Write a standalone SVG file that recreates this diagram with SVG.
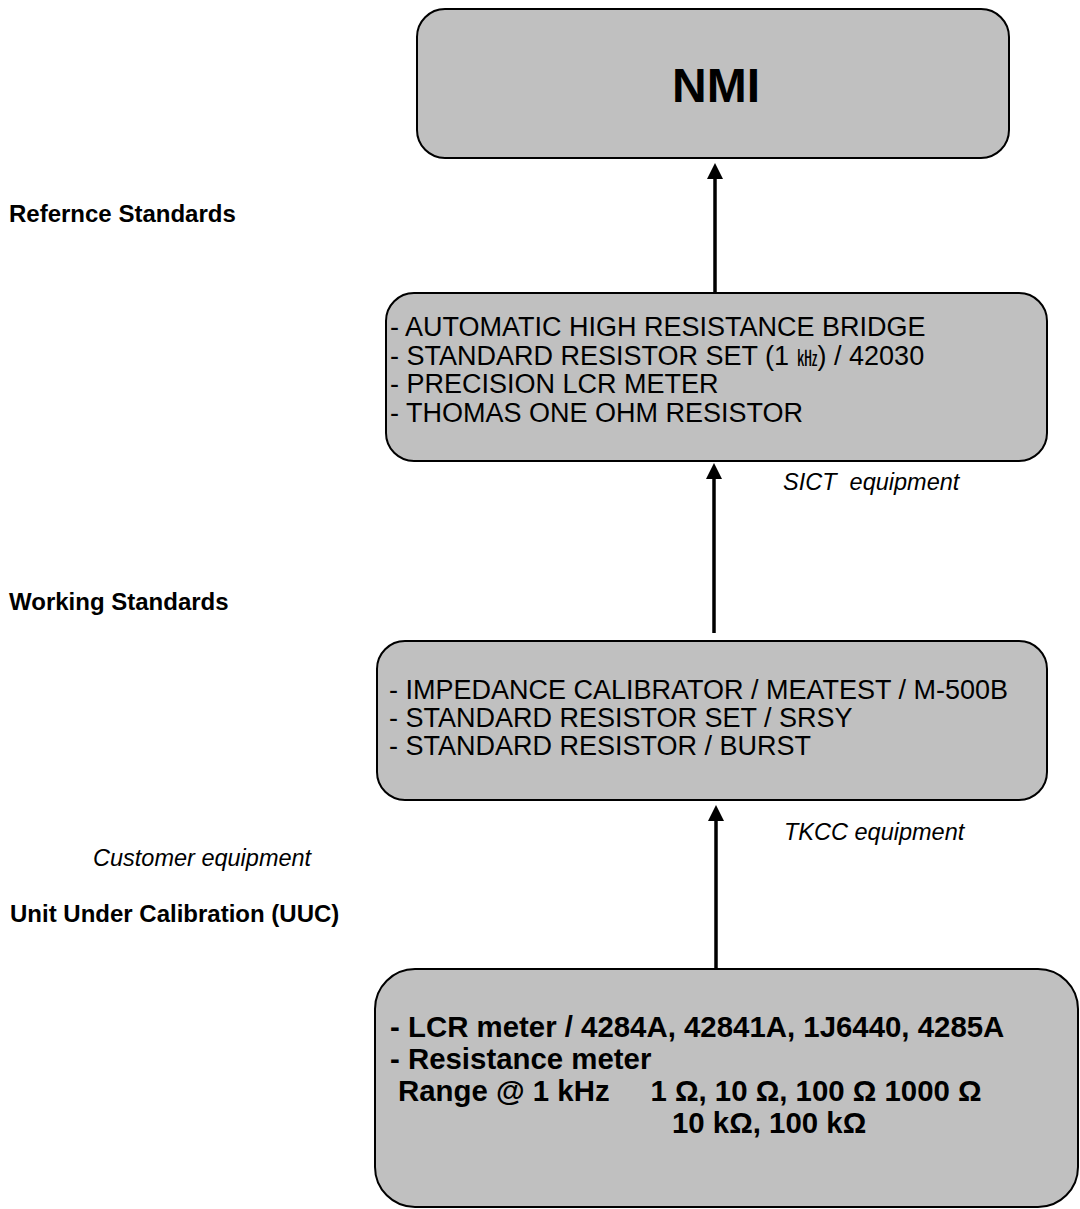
<svg xmlns="http://www.w3.org/2000/svg" width="1080" height="1209" viewBox="0 0 1080 1209">
<defs>
<style>
.box{fill:#c0c0c0;stroke:#000;stroke-width:2}
.t{font-family:"Liberation Sans",Arial,sans-serif;fill:#000;white-space:pre}
.bx{font-size:27px}
.lab{font-size:24px;font-weight:bold}
.it{font-size:23.5px;font-style:italic}
.uuc{font-size:29.4px;font-weight:bold}
.cjk{font-family:"Noto Sans CJK KR","Noto Sans CJK SC",sans-serif}
.conn{stroke:#000;stroke-width:3.5;fill:none}
</style>
<marker id="ah" viewBox="0 0 16 16" refX="6" refY="8" markerWidth="16" markerHeight="16" markerUnits="userSpaceOnUse" orient="auto">
<path d="M0,0 L16,8 L0,16 z" fill="#000"/>
</marker>
</defs>
<rect width="1080" height="1209" fill="#fff"/>
<g id="connectors">
<line class="conn" x1="715" y1="292" x2="715" y2="173" marker-end="url(#ah)"/>
<line class="conn" x1="714" y1="633" x2="714" y2="473" marker-end="url(#ah)"/>
<line class="conn" x1="716" y1="969" x2="716" y2="815" marker-end="url(#ah)"/>
</g>
<g id="nmi">
<rect class="box" x="417" y="9" width="592" height="149" rx="28"/>
<text class="t" x="672" y="102" font-weight="bold" font-size="48">NMI</text>
</g>
<g id="reference">
<rect class="box" x="386" y="293" width="661" height="168" rx="28"/>
<text class="t bx" x="390" y="336">- AUTOMATIC HIGH RESISTANCE BRIDGE</text>
<text class="t bx" x="390" y="365">- STANDARD RESISTOR SET (1 <tspan class="cjk" font-size="21">㎑</tspan>) / 42030</text>
<text class="t bx" x="390" y="393">- PRECISION LCR METER</text>
<text class="t bx" x="390" y="422">- THOMAS ONE OHM RESISTOR</text>
</g>
<g id="working">
<rect class="box" x="377" y="641" width="670" height="159" rx="28"/>
<text class="t bx" x="389" y="699">- IMPEDANCE CALIBRATOR / MEATEST / M-500B</text>
<text class="t bx" x="389" y="727">- STANDARD RESISTOR SET / SRSY</text>
<text class="t bx" x="389" y="755">- STANDARD RESISTOR / BURST</text>
</g>
<g id="uuc">
<rect class="box" x="375" y="969" width="703" height="238" rx="40"/>
<text class="t uuc" x="390" y="1037">- LCR meter / 4284A, 42841A, 1J6440, 4285A</text>
<text class="t uuc" x="390" y="1069">- Resistance meter</text>
<text class="t uuc" x="398" y="1101">Range @ 1 kHz     1 Ω, 10 Ω, 100 Ω 1000 Ω</text>
<text class="t uuc" x="672" y="1133">10 kΩ, 100 kΩ</text>
</g>
<g id="labels">
<text class="t lab" x="9" y="222">Refernce Standards</text>
<text class="t lab" x="9" y="610">Working Standards</text>
<text class="t lab" x="10" y="922">Unit Under Calibration (UUC)</text>
<text class="t it" x="93" y="866">Customer equipment</text>
<text class="t it" x="783" y="490">SICT  equipment</text>
<text class="t it" x="784" y="840">TKCC equipment</text>
</g>
</svg>
